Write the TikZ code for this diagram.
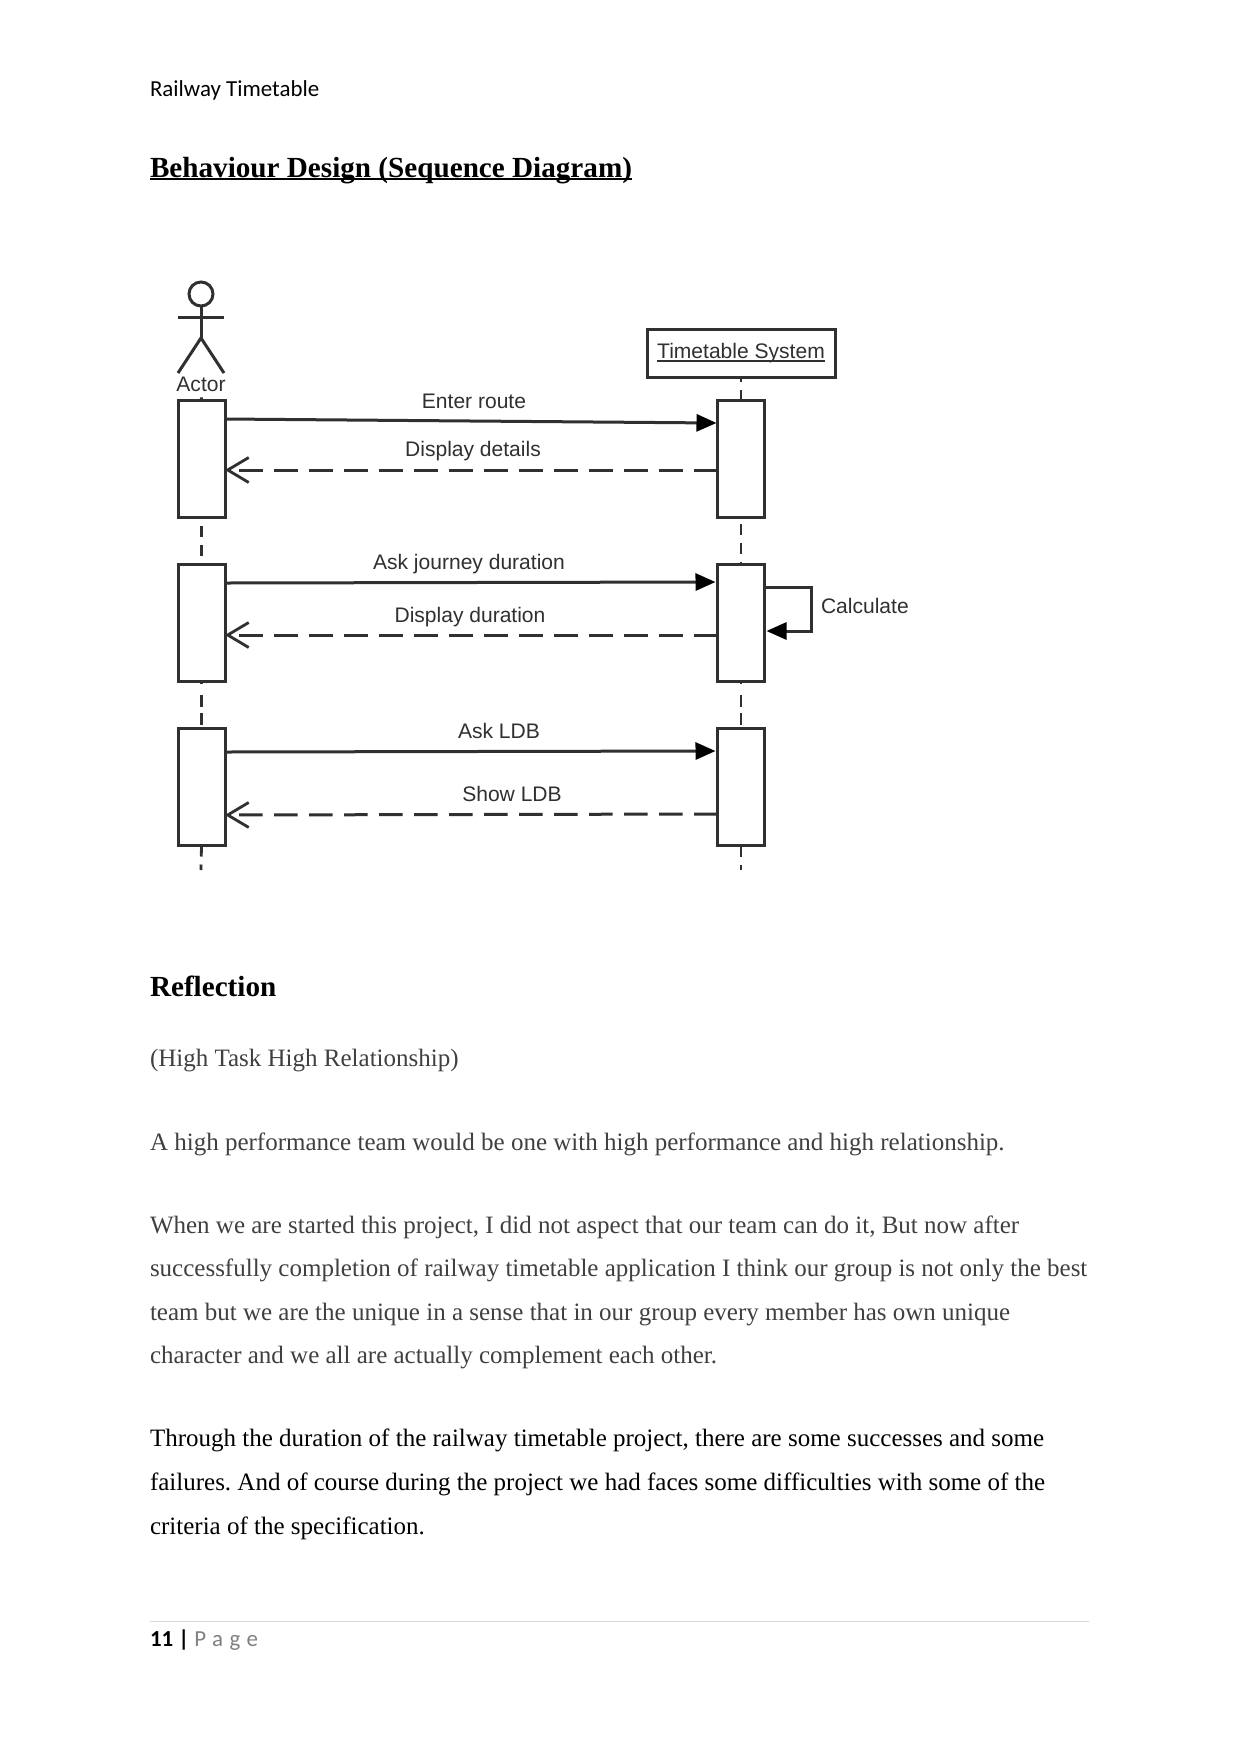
\documentclass[tikz,border=0pt]{standalone}
\usepackage{fontspec}
\setmainfont{Liberation Serif}
\setsansfont{Liberation Sans}
\newfontfamily\carlito{Carlito}
\usetikzlibrary{arrows.meta}
\def\pu{0.48pt}
\definecolor{ink}{HTML}{303030}
\definecolor{bodygrey}{HTML}{404040}
% text with a rule of given drop and thickness running under it
\newcommand\textwithbar[3]{\leavevmode\setbox0=\hbox{#3}\rlap{\raisebox{-#1}{\rule{\wd0}{#2}}}\box0}
\tikzset{
  every node/.style={inner sep=0pt,outer sep=0pt},
  figline/.style={draw=ink,line width=3*\pu},
  actbox/.style={figline,fill=white,rectangle,minimum width=47*\pu,minimum height=117*\pu},
  lifeline/.style={draw=ink,line width=2.8*\pu,dash pattern=on 11*\pu off 8*\pu},
  lifelinetop/.style={draw=ink,line width=2.8*\pu,dash pattern=on 5*\pu off 8*\pu on 12*\pu off 20*\pu},
  lifelinegap/.style={draw=ink,line width=2.8*\pu,dash pattern=on 3*\pu off 11*\pu on 12*\pu off 6*\pu on 12*\pu off 60*\pu},
  callmsg/.style={draw=ink,line width=3*\pu,-{Triangle[length=20*\pu,width=17*\pu,color=black]}},
  replymsg/.style={draw=ink,line width=3*\pu,dash pattern=on 23.5*\pu off 11.5*\pu,-{Straight Barb[length=21*\pu,width=25*\pu,line width=2.8*\pu]}},
  figlabel/.style={font=\sffamily\fontsize{10.1}{12}\selectfont,text=ink},
  bodytext/.style={anchor=base west,font=\frenchspacing\fontsize{12}{14}\selectfont,text=bodygrey},
  bodyblack/.style={bodytext,text=black},
}
\begin{document}
\begin{tikzpicture}[x=\pu,y=-\pu]
\useasboundingbox[fill=white] (0,0) rectangle (1241,1754);

% page header and headings
\node[anchor=base west,font=\carlito\fontsize{11}{13}\selectfont] (header) at (150,96) {Railway Timetable};
\node[anchor=base west,font=\bfseries\fontsize{14}{16}\selectfont] (title) at (150,177) {\textwithbar{1.6pt}{1.2pt}{Behaviour Design (Sequence Diagram)}};

% actor figure
\node[circle,figline,fill=white,minimum size=24*\pu] (head) at (201,294) {};
\coordinate (hip) at (201,338);
\coordinate (armL) at (178,317);
\coordinate (armR) at (224,317);
\coordinate (legL) at (178,373);
\coordinate (legR) at (224,373);
\draw[figline] (head.south) -- (hip);
\draw[figline] (armL) -- (armR);
\draw[figline] (legL) -- (hip) -- (legR);
\node[figlabel] (actorname) at (201,384) {Actor};

% timetable system object
\node[figline,fill=white,rectangle,minimum width=188*\pu,minimum height=48*\pu,figlabel] (system) at (741,353) {\raisebox{-1pt}{\textwithbar{1.5pt}{0.8pt}{Timetable System}}};

% activation boxes
\node[actbox] (a1) at (201.5,458.5) {};
\node[actbox] (a2) at (201.5,622.5) {};
\node[actbox] (a3) at (201.5,787) {};
\node[actbox] (s1) at (741,458.5) {};
\node[actbox] (s2) at (741,622.5) {};
\node[actbox] (s3) at (741,787) {};

% lifelines
\coordinate (aend) at (201,870);
\coordinate (send) at (741,870);
\draw[draw=ink,line width=2.8*\pu,shorten <=6*\pu] (actorname.south) -- (a1.north);
\draw[lifeline] (a1.south) ++(0,9) -- (a2.north);
\draw[lifelinegap] (a2.south) -- (a3.north);
\draw[lifeline] (a3.south) -- (aend);
\draw[lifelinetop] (system.south) -- (s1.north);
\draw[lifeline] (s1.south) ++(0,7) -- (s2.north);
\draw[lifelinegap] (s2.south) -- (s3.north);
\draw[lifeline] (s3.south) -- (send);

% messages
\coordinate (c1a) at (a1.east |- 0,419);
\coordinate (c1b) at (s1.west |- 0,423);
\coordinate (r1a) at (s1.west |- 0,470);
\coordinate (r1b) at (a1.east |- 0,470);
\coordinate (c2a) at (a2.east |- 0,583);
\coordinate (c2b) at (s2.west |- 0,582);
\coordinate (r2a) at (s2.west |- 0,635);
\coordinate (r2b) at (a2.east |- 0,635);
\coordinate (c3a) at (a3.east |- 0,752);
\coordinate (c3b) at (s3.west |- 0,751);
\coordinate (r3a) at (s3.west |- 0,814);
\coordinate (r3b) at (a3.east |- 0,815);
\draw[callmsg,shorten >=1*\pu] (c1a) -- (c1b);
\draw[replymsg] (r1a) -- (r1b);
\draw[callmsg,shorten >=2*\pu] (c2a) -- (c2b);
\draw[replymsg] (r2a) -- (r2b);
\draw[callmsg,shorten >=2*\pu] (c3a) -- (c3b);
\draw[replymsg] (r3a) -- (r3b);

% self call on the system
\coordinate (selfa) at (s2.east |- 0,587);
\coordinate (selfb) at (s2.east |- 0,631);
\coordinate (selfc) at (811,587);
\coordinate (selfd) at (811,631);
\draw[callmsg,shorten >=2*\pu] (selfa) -- (selfc) -- (selfd) -- (selfb);

% message labels
\node[figlabel] (l1) at (474,401) {Enter route};
\node[figlabel] (l2) at (473,451.5) {Display details};
\node[figlabel] (l3) at (469,564.5) {Ask journey duration};
\node[figlabel] (l4) at (470,617) {Display duration};
\node[figlabel] (l5) at (499,731) {Ask LDB};
\node[figlabel] (l6) at (512,794) {Show LDB};
\node[figlabel,anchor=west] (l7) at (821,606) {Calculate};

% reflection text
\node[anchor=base west,font=\bfseries\fontsize{14}{16}\selectfont] (refl) at (150,996) {Reflection};
\node[bodytext] (p1) at (150,1066) {(High Task High Relationship)};
\node[bodytext] (p2) at (150,1150) {A high performance team would be one with high performance and high relationship.};
\node[bodytext] (p3a) at (150,1233) {When we are started this project, I did not aspect that our team can do it, But now after};
\node[bodytext] (p3b) at (150,1276.5) {successfully completion of railway timetable application I think our group is not only the best};
\node[bodytext] (p3c) at (150,1320) {team but we are the unique in a sense that in our group every member has own unique};
\node[bodytext] (p3d) at (150,1363) {character and we all are actually complement each other.};
\node[bodyblack] (p4a) at (150,1446) {Through the duration of the railway timetable project, there are some successes and some};
\node[bodyblack] (p4b) at (150,1490) {failures. And of course during the project we had faces some difficulties with some of the};
\node[bodyblack] (p4c) at (150,1534) {criteria of the specification.};

% page footer
\coordinate (ruleL) at (150,1621);
\coordinate (ruleR) at (1089,1621);
\draw[draw=black!15,line width=1*\pu] (ruleL) -- (ruleR);
\node[anchor=base west,font=\carlito\fontsize{11}{13}\selectfont] (pageno) at (150,1646) {\textbf{11 |} \textcolor{black!50}{\addfontfeature{LetterSpace=28}Page}};
\end{tikzpicture}
\end{document}
